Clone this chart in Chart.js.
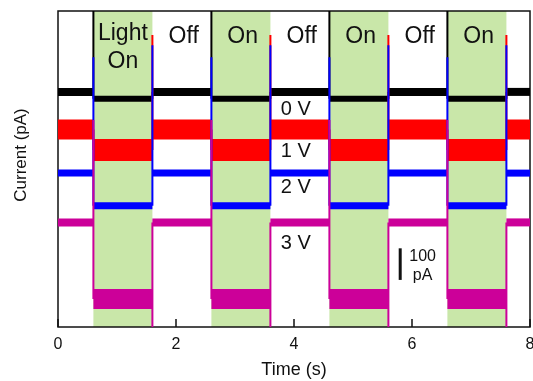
<!DOCTYPE html>
<html>
<head>
<meta charset="utf-8">
<script src="https://cdn.jsdelivr.net/npm/chart.js@4.4.1/dist/chart.umd.min.js"></script>
<style>
  html, body { margin: 0; padding: 0; background: #fff; }
  #wrap { width: 533px; height: 381px; }
</style>
</head>
<body>
<div id="wrap"><canvas id="chart" width="533" height="381"></canvas></div>
<script>
// light switches (s): on at even index, off at odd index
const switchTimes = [0.6, 1.6, 2.6, 3.6, 4.6, 5.6, 6.6, 7.6];
const xTicks = [0, 2, 4, 6, 8];
const biasLabels = ['0 V', '1 V', '2 V', '3 V'];
const phaseLabels = ['Off', 'On', 'Off', 'On', 'Off', 'On'];

// current level in each interval (off, on, off, ... off), pA
const level0V = [744, 722, 744, 722, 744, 722, 744, 722, 744];
const level1V = [625, 560, 625, 560, 625, 560, 625, 560, 625];
const level2V = [487, 384, 487, 384, 487, 384, 487, 384, 487];
const level3V = [331, 89, 331, 89, 331, 89, 331, 89, 331];

// transient peak at each switch, null = plain step
const peak0V = [1100, null, 1100, null, 1100, null, 1100, null];
const peak1V = [null, 924, null, 924, null, 924, null, 924];
const peak2V = [854, 892, 854, 892, 854, 892, 854, 892];
const peak3V = [655, -40, 655, -40, 655, -40, 655, -40];

const T_END = 8;
const GREEN = 'rgb(201, 231, 169)';
const FONT = '"Liberation Sans", Arial, sans-serif';

function buildTrace(levels, peaks) {
    const bounds = [0, ...switchTimes, T_END];
    const pts = [];
    levels.forEach((v, i) => {
        pts.push({ x: bounds[i], y: v });
        pts.push({ x: bounds[i + 1], y: v });
        if (i < switchTimes.length && peaks[i] !== null) {
            pts.push({ x: switchTimes[i], y: peaks[i] });
        }
    });
    return pts;
}

function isOn(x) {
    return switchTimes.filter(t => t <= x).length % 2 === 1;
}

// thick band for the noisy level, thin line for the switching transient
function trace(label, levels, peaks, color, wOff, wOn) {
    return {
        label: label,
        data: buildTrace(levels, peaks),
        borderColor: color,
        borderWidth: wOff,
        borderCapStyle: 'butt',
        borderJoinStyle: 'miter',
        pointRadius: 0,
        tension: 0,
        clip: 0,
        segment: {
            borderWidth: c => c.p0.parsed.x === c.p1.parsed.x ? 2 : (isOn(c.p0.parsed.x) ? wOn : wOff)
        }
    };
}

// green "light on" windows, then the box and inward ticks under the traces
const lightBands = {
    id: 'lightBands',
    beforeDatasetsDraw(chart) {
        const { ctx, chartArea: a, scales: { x } } = chart;
        ctx.save();
        ctx.fillStyle = GREEN;
        for (let i = 0; i < switchTimes.length; i += 2) {
            const x0 = x.getPixelForValue(switchTimes[i]);
            const x1 = x.getPixelForValue(switchTimes[i + 1]);
            ctx.fillRect(x0, a.top, x1 - x0, a.bottom - a.top);
        }
        ctx.strokeStyle = '#111';
        ctx.lineWidth = 1.5;
        ctx.strokeRect(a.left, a.top, a.right - a.left, a.bottom - a.top);
        ctx.beginPath();
        xTicks.forEach(v => {
            const px = x.getPixelForValue(v);
            ctx.moveTo(px, a.bottom);
            ctx.lineTo(px, a.bottom - 8);
        });
        ctx.stroke();
        ctx.restore();
    }
};

const annotations = {
    id: 'annotations',
    afterDatasetsDraw(chart) {
        const { ctx, chartArea: a, scales: { x, y } } = chart;
        ctx.save();
        ctx.fillStyle = '#111';
        ctx.strokeStyle = '#111';
        ctx.textAlign = 'center';
        ctx.textBaseline = 'middle';

        // phase labels
        ctx.font = '23px ' + FONT;
        ctx.fillText('Light', x.getPixelForValue(1.1), y.getPixelForValue(929));
        ctx.fillText('On', x.getPixelForValue(1.1), y.getPixelForValue(840));
        phaseLabels.forEach((t, i) => {
            const mid = (switchTimes[i + 1] + switchTimes[i + 2]) / 2 + 0.03;
            ctx.fillText(t, x.getPixelForValue(mid), y.getPixelForValue(919));
        });

        // bias labels
        ctx.font = '20px ' + FONT;
        const biasY = [688, 554, 441, 264];
        biasLabels.forEach((t, i) => {
            ctx.fillText(t, x.getPixelForValue(4.03), y.getPixelForValue(biasY[i]));
        });

        // 100 pA scale bar
        ctx.lineWidth = 3;
        ctx.beginPath();
        ctx.moveTo(x.getPixelForValue(5.8), y.getPixelForValue(149));
        ctx.lineTo(x.getPixelForValue(5.8), y.getPixelForValue(249));
        ctx.stroke();
        ctx.font = '16px ' + FONT;
        ctx.fillText('100', x.getPixelForValue(6.18), y.getPixelForValue(222));
        ctx.fillText('pA', x.getPixelForValue(6.18), y.getPixelForValue(163));

        // axis titles
        ctx.font = '18px ' + FONT;
        ctx.fillText('Time (s)', (a.left + a.right) / 2, 370);
        ctx.font = '17px ' + FONT;
        ctx.translate(21, 155);
        ctx.rotate(-Math.PI / 2);
        ctx.fillText('Current (pA)', 0, 0);
        ctx.restore();
    }
};

new Chart(document.getElementById('chart'), {
    type: 'line',
    data: {
        datasets: [
            trace('3 V', level3V, peak3V, 'rgb(204, 0, 153)', 8, 20),
            trace('2 V', level2V, peak2V, 'rgb(0, 0, 255)', 7, 7),
            trace('1 V', level1V, peak1V, 'rgb(255, 0, 0)', 20, 22),
            trace('0 V', level0V, peak0V, 'rgb(0, 0, 0)', 8, 6)
        ]
    },
    options: {
        responsive: false,
        animation: false,
        layout: { padding: { top: 11, right: 3, left: 0, bottom: 0 } },
        plugins: { legend: { display: false }, tooltip: { enabled: false } },
        scales: {
            x: {
                type: 'linear',
                min: 0,
                max: T_END,
                afterBuildTicks: s => { s.ticks = xTicks.map(v => ({ value: v })); },
                afterFit: s => { s.height = 54; s.paddingLeft = 0; s.paddingRight = 0; },
                grid: { display: false, drawTicks: false },
                border: { display: false },
                ticks: { color: '#111', padding: 8, font: { family: FONT, size: 16 } }
            },
            y: {
                min: 0,
                max: 1000,
                afterFit: s => { s.width = 58; },
                grid: { display: false, drawTicks: false },
                border: { display: false },
                ticks: { display: false }
            }
        }
    },
    plugins: [lightBands, annotations]
});
</script>
</body>
</html>
